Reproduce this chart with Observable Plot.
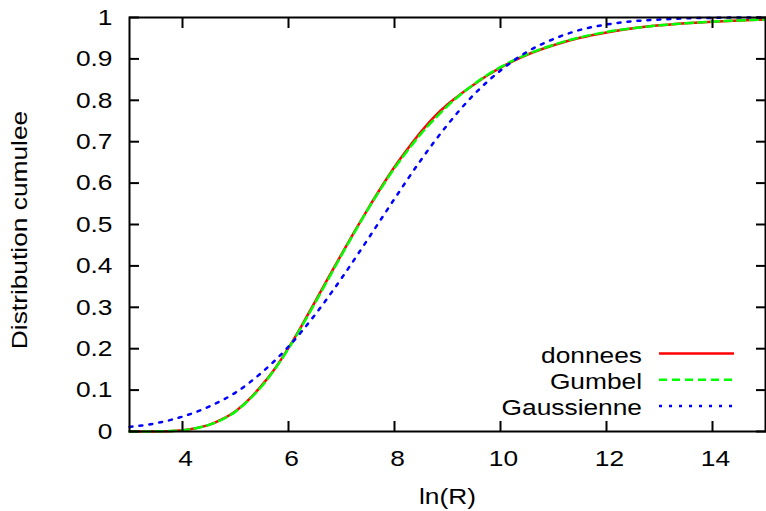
<!DOCTYPE html>
<html><head><meta charset="utf-8">
<script src="https://cdn.jsdelivr.net/npm/d3@7"></script>
<script src="https://cdn.jsdelivr.net/npm/@observablehq/plot@0.6"></script>
<style>body{margin:0;background:#fff} svg{display:block}</style>
</head><body><div id="chart"></div>
<script>
// ln(R) grid and curves
const xGrid = [3, 3.5, 4, 4.25, 4.5, 4.75, 5, 5.25, 5.5, 5.75, 6, 6.25, 6.5, 6.75, 7, 7.25, 7.5, 7.75, 8, 8.25, 8.5, 8.75, 9, 9.25, 9.5, 9.75, 10, 10.5, 11, 11.5, 12, 12.5, 13, 13.5, 14, 14.5, 15];
const donnees = [0, 0, 0.003, 0.008, 0.016, 0.030, 0.049, 0.077, 0.112, 0.153, 0.202, 0.256, 0.313, 0.371, 0.428, 0.484, 0.538, 0.590, 0.639, 0.683, 0.724, 0.760, 0.790, 0.815, 0.838, 0.860, 0.879, 0.910, 0.933, 0.951, 0.964, 0.974, 0.981, 0.986, 0.990, 0.993, 0.995];
const gumbel = [0, 0.0004, 0.003, 0.008, 0.016, 0.029, 0.048, 0.076, 0.110, 0.152, 0.200, 0.254, 0.310, 0.368, 0.426, 0.482, 0.537, 0.588, 0.636, 0.679, 0.719, 0.754, 0.786, 0.814, 0.839, 0.861, 0.880, 0.911, 0.934, 0.952, 0.965, 0.974, 0.981, 0.986, 0.990, 0.993, 0.995];
const xGauss = [3, 3.5, 4, 4.5, 5, 5.5, 6, 6.5, 7, 7.5, 8, 8.5, 9, 9.5, 10, 10.5, 11, 11.5, 12, 12.5, 13, 13.5, 14, 14.5, 15];
const gaussienne = [0.011, 0.020, 0.036, 0.060, 0.094, 0.143, 0.205, 0.282, 0.370, 0.465, 0.562, 0.656, 0.741, 0.814, 0.872, 0.917, 0.948, 0.970, 0.983, 0.991, 0.995, 0.998, 0.999, 1.0, 1.0];
const xTicks = [4, 6, 8, 10, 12, 14];
const yTicks = [0, 0.1, 0.2, 0.3, 0.4, 0.5, 0.6, 0.7, 0.8, 0.9, 1];
const yTickLabels = ["0", "0.1", "0.2", "0.3", "0.4", "0.5", "0.6", "0.7", "0.8", "0.9", "1"];
const seriesNames = ["donnees", "Gumbel", "Gaussienne"];
const seriesColors = ["#ff0000", "#00ff00", "#0000ff"];
const seriesDash = [null, "8,5", "3,7"];
const xLabel = "ln(R)";
const yLabel = "Distribution cumulee";

const dataD = xGrid.map((x, i) => ({x, y: donnees[i]}));
const dataG = xGrid.map((x, i) => ({x, y: gumbel[i]}));
const dataN = xGauss.map((x, i) => ({x, y: gaussienne[i]}));

const font = "'Liberation Sans', Arial, Helvetica, sans-serif";
const fs = 22.5;
const stretch = 1.17; // glyphs in the reference are drawn wide

const plot = Plot.plot({
  width: 766,
  height: 511,
  marginLeft: 129,
  marginRight: 1,
  marginTop: 17,
  marginBottom: 80,
  style: {fontFamily: font, fontSize: fs + "px", background: "white", color: "black", overflow: "visible"},
  x: {domain: [3, 15]},
  y: {domain: [0, 1]},
  marks: [
    Plot.line(dataD, {x: "x", y: "y", stroke: seriesColors[0], strokeWidth: 2.5, curve: "monotone-x"}),
    Plot.line(dataG, {x: "x", y: "y", stroke: seriesColors[1], strokeWidth: 2.5, strokeDasharray: seriesDash[1], curve: "monotone-x"}),
    Plot.line(dataN, {x: "x", y: "y", stroke: seriesColors[2], strokeWidth: 2.5, strokeDasharray: seriesDash[2], curve: "monotone-x"}),
    Plot.axisX({ticks: xTicks, anchor: "bottom", tickSize: 0, tickPadding: 19, dx: 3, label: null, fontSize: fs}),
    Plot.axisX({ticks: xTicks, anchor: "bottom", tickSize: -10, strokeWidth: 2, tickFormat: () => "", label: null}),
    Plot.axisX({ticks: xTicks, anchor: "top", tickSize: -10, strokeWidth: 2, tickFormat: () => "", label: null}),
    Plot.axisY({ticks: yTicks, anchor: "left", tickSize: 0, tickPadding: 17, label: null, fontSize: fs,
      tickFormat: d => yTickLabels[yTicks.findIndex(t => Math.abs(t - d) < 1e-9)]}),
    Plot.axisY({ticks: yTicks, anchor: "left", tickSize: -10, strokeWidth: 2, tickFormat: () => "", label: null}),
    Plot.axisY({ticks: yTicks, anchor: "right", tickSize: -10, strokeWidth: 2, tickFormat: () => "", label: null}),
    Plot.frame({stroke: "black", strokeWidth: 2})
  ]
});

const svg = d3.select(plot);
// axis titles
svg.append("text").attr("transform", "translate(447.5,504)").attr("text-anchor", "middle")
  .attr("font-family", font).attr("font-size", fs).attr("fill", "black").text(xLabel);
svg.append("text").attr("transform", "translate(27,230) rotate(-90)").attr("text-anchor", "middle")
  .attr("font-family", font).attr("font-size", fs).attr("fill", "black").text(yLabel);
// legend
const leg = svg.append("g");
seriesNames.forEach((name, i) => {
  const cy = 353.5 + i * 26.3;
  leg.append("text").attr("transform", `translate(642,${cy + 9})`).attr("text-anchor", "end")
    .attr("font-family", font).attr("font-size", fs).attr("fill", "black").text(name);
  leg.append("line").attr("x1", 659).attr("x2", 734).attr("y1", cy).attr("y2", cy)
    .attr("stroke", seriesColors[i]).attr("stroke-width", 2.5)
    .attr("stroke-dasharray", seriesDash[i]);
});
document.getElementById("chart").appendChild(plot);
// widen every glyph along its baseline around its own anchor, as in the reference
plot.querySelectorAll("text").forEach(t => {
  if (!t.textContent) return;
  const b = t.getBBox();
  const anchor = getComputedStyle(t).textAnchor;
  const ax = anchor === "end" ? b.x + b.width : anchor === "middle" ? b.x + b.width / 2 : b.x;
  const tr = t.getAttribute("transform") || "";
  t.setAttribute("transform", `${tr} translate(${ax},0) scale(${stretch},1) translate(${-ax},0)`);
});
</script>
</body></html>
